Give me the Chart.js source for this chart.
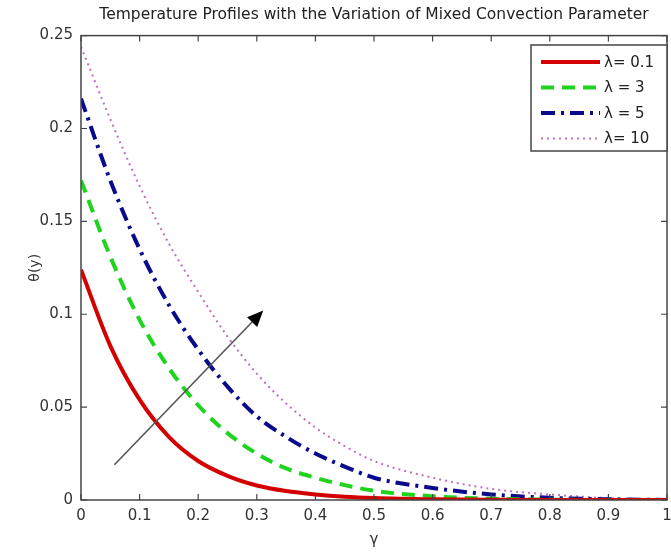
<!DOCTYPE html>
<html>
<head>
<meta charset="utf-8">
<script src="https://cdn.jsdelivr.net/npm/chart.js@4.4.1/dist/chart.umd.min.js"></script>
<style>
  html, body { margin: 0; padding: 0; background: #fff; }
  #wrap { width: 671px; height: 552px; }
</style>
</head>
<body>
<div id="wrap"><canvas id="tempChart" width="671" height="552"></canvas></div>
<script>
// similarity variable y
const yPos = [0, 0.05, 0.1, 0.15, 0.2, 0.25, 0.3, 0.35, 0.4, 0.45, 0.5, 0.6, 0.7, 0.8, 0.9, 1.0];

// theta(y) for each lambda
const lambda01 = [0.124, 0.083, 0.054, 0.034, 0.021, 0.013, 0.0078, 0.0048, 0.003, 0.0018, 0.0011, 0.0004, 0.0001, 0, 0, 0];
const lambda3  = [0.172, 0.131, 0.097, 0.071, 0.051, 0.036, 0.025, 0.017, 0.012, 0.008, 0.005, 0.002, 0.0007, 0.0002, 0, 0];
const lambda5  = [0.216, 0.172, 0.135, 0.105, 0.081, 0.061, 0.045, 0.034, 0.025, 0.018, 0.012, 0.0065, 0.003, 0.0012, 0.0004, 0];
const lambda10 = [0.244, 0.205, 0.169, 0.138, 0.112, 0.088, 0.068, 0.052, 0.039, 0.029, 0.021, 0.012, 0.006, 0.003, 0.001, 0.0003];

const seriesLabels = ["\u03bb= 0.1", "\u03bb = 3", "\u03bb = 5", "\u03bb= 10"];

const xTicks = [0, 0.1, 0.2, 0.3, 0.4, 0.5, 0.6, 0.7, 0.8, 0.9, 1];
const yTicks = [0, 0.05, 0.1, 0.15, 0.2, 0.25];
const tickText = (v) => String(+v.toFixed(2));

// arrow showing increasing lambda (data coords)
const arrowFrom = { x: 0.057, y: 0.019 };
const arrowTo = { x: 0.311, y: 0.102 };

const FONT = "'DejaVu Sans', sans-serif";
const AXIS = "#444";

const pts = (vals) => vals.map((v, i) => ({ x: yPos[i], y: v }));

// box, inner ticks, arrow and legend, MATLAB-ish
const matlabFrame = {
  id: "matlabFrame",
  afterDatasetsDraw(chart) {
    const { ctx, chartArea: a, scales: { x, y } } = chart;
    ctx.save();

    // arrow
    const x0 = x.getPixelForValue(arrowFrom.x), y0 = y.getPixelForValue(arrowFrom.y);
    const x1 = x.getPixelForValue(arrowTo.x), y1 = y.getPixelForValue(arrowTo.y);
    const ang = Math.atan2(y1 - y0, x1 - x0);
    const hl = 16, hw = 7;
    ctx.strokeStyle = "#555";
    ctx.lineWidth = 1.6;
    ctx.beginPath();
    ctx.moveTo(x0, y0);
    ctx.lineTo(x1 - hl * Math.cos(ang), y1 - hl * Math.sin(ang));
    ctx.stroke();
    ctx.fillStyle = "#000";
    ctx.beginPath();
    ctx.moveTo(x1, y1);
    ctx.lineTo(x1 - hl * Math.cos(ang) + hw * Math.sin(ang), y1 - hl * Math.sin(ang) - hw * Math.cos(ang));
    ctx.lineTo(x1 - hl * Math.cos(ang) - hw * Math.sin(ang), y1 - hl * Math.sin(ang) + hw * Math.cos(ang));
    ctx.closePath();
    ctx.fill();

    // frame
    ctx.strokeStyle = AXIS;
    ctx.lineWidth = 1.5;
    ctx.strokeRect(a.left, a.top, a.right - a.left, a.bottom - a.top);

    // inward ticks
    ctx.lineWidth = 1.2;
    ctx.beginPath();
    xTicks.forEach((v) => {
      const px = x.getPixelForValue(v);
      ctx.moveTo(px, a.bottom); ctx.lineTo(px, a.bottom - 6);
      ctx.moveTo(px, a.top); ctx.lineTo(px, a.top + 6);
    });
    yTicks.forEach((v) => {
      const py = y.getPixelForValue(v);
      ctx.moveTo(a.left, py); ctx.lineTo(a.left + 6, py);
      ctx.moveTo(a.right, py); ctx.lineTo(a.right - 6, py);
    });
    ctx.stroke();

    // legend box
    const lx = 531, ly = 45, lw = 136, lh = 106;
    ctx.fillStyle = "#fff";
    ctx.fillRect(lx, ly, lw, lh);
    ctx.strokeStyle = AXIS;
    ctx.lineWidth = 1.5;
    ctx.strokeRect(lx, ly, lw, lh);
    ctx.font = "15px " + FONT;
    ctx.textBaseline = "middle";
    chart.data.datasets.forEach((ds, i) => {
      const ry = 62 + i * 25.5;
      ctx.strokeStyle = ds.borderColor;
      ctx.lineWidth = ds.borderWidth;
      ctx.setLineDash(ds.borderDash || []);
      ctx.beginPath();
      ctx.moveTo(541, ry);
      ctx.lineTo(600, ry);
      ctx.stroke();
      ctx.setLineDash([]);
      ctx.fillStyle = "#222";
      ctx.fillText(ds.label, 604, ry + 1);
    });
    ctx.restore();
  }
};

new Chart(document.getElementById("tempChart"), {
  type: "line",
  data: {
    datasets: [
      { label: seriesLabels[0], data: pts(lambda01), borderColor: "#d40000", borderWidth: 4 },
      { label: seriesLabels[1], data: pts(lambda3), borderColor: "#1fd41f", borderWidth: 4, borderDash: [13, 8] },
      { label: seriesLabels[2], data: pts(lambda5), borderColor: "#0a0a8c", borderWidth: 4, borderDash: [14, 6, 3, 6] },
      { label: seriesLabels[3], data: pts(lambda10), borderColor: "#c070c0", borderWidth: 2, borderDash: [2, 4] }
    ]
  },
  options: {
    responsive: false,
    animation: false,
    parsing: false,
    layout: { padding: { left: 0, right: 4, top: 0, bottom: 0 } },
    elements: {
      point: { radius: 0 },
      line: { cubicInterpolationMode: "monotone", fill: false }
    },
    plugins: {
      legend: { display: false },
      tooltip: { enabled: false },
      title: {
        display: true,
        fullSize: false,
        text: "Temperature Profiles with the Variation of Mixed Convection Parameter",
        color: "#222",
        font: { family: FONT, size: 15.5, weight: "normal" },
        padding: { top: 6, bottom: 11 }
      }
    },
    scales: {
      x: {
        type: "linear",
        min: 0,
        max: 1,
        afterBuildTicks: (s) => { s.ticks = xTicks.map((v) => ({ value: v })); },
        afterFit: (s) => { s.height = 52; s.paddingLeft = 0; s.paddingRight = 0; },
        grid: { display: false, drawTicks: false },
        border: { display: false },
        ticks: { color: "#333", padding: 7, font: { family: FONT, size: 15 }, maxRotation: 0, callback: tickText },
        title: { display: true, text: "\u03b3", color: "#333", font: { family: FONT, size: 15 }, padding: { top: 0, bottom: 3 } }
      },
      y: {
        min: 0,
        max: 0.25,
        afterBuildTicks: (s) => { s.ticks = yTicks.map((v) => ({ value: v })); },
        afterFit: (s) => { s.width = 81; s.paddingTop = 0; s.paddingBottom = 0; },
        grid: { display: false, drawTicks: false },
        border: { display: false },
        ticks: { color: "#333", padding: 8, font: { family: FONT, size: 15 }, callback: tickText },
        title: { display: true, text: "\u03b8(y)", color: "#333", font: { family: FONT, size: 14 }, padding: { top: 27, bottom: 0 } }
      }
    }
  },
  plugins: [matlabFrame]
});
</script>
</body>
</html>
